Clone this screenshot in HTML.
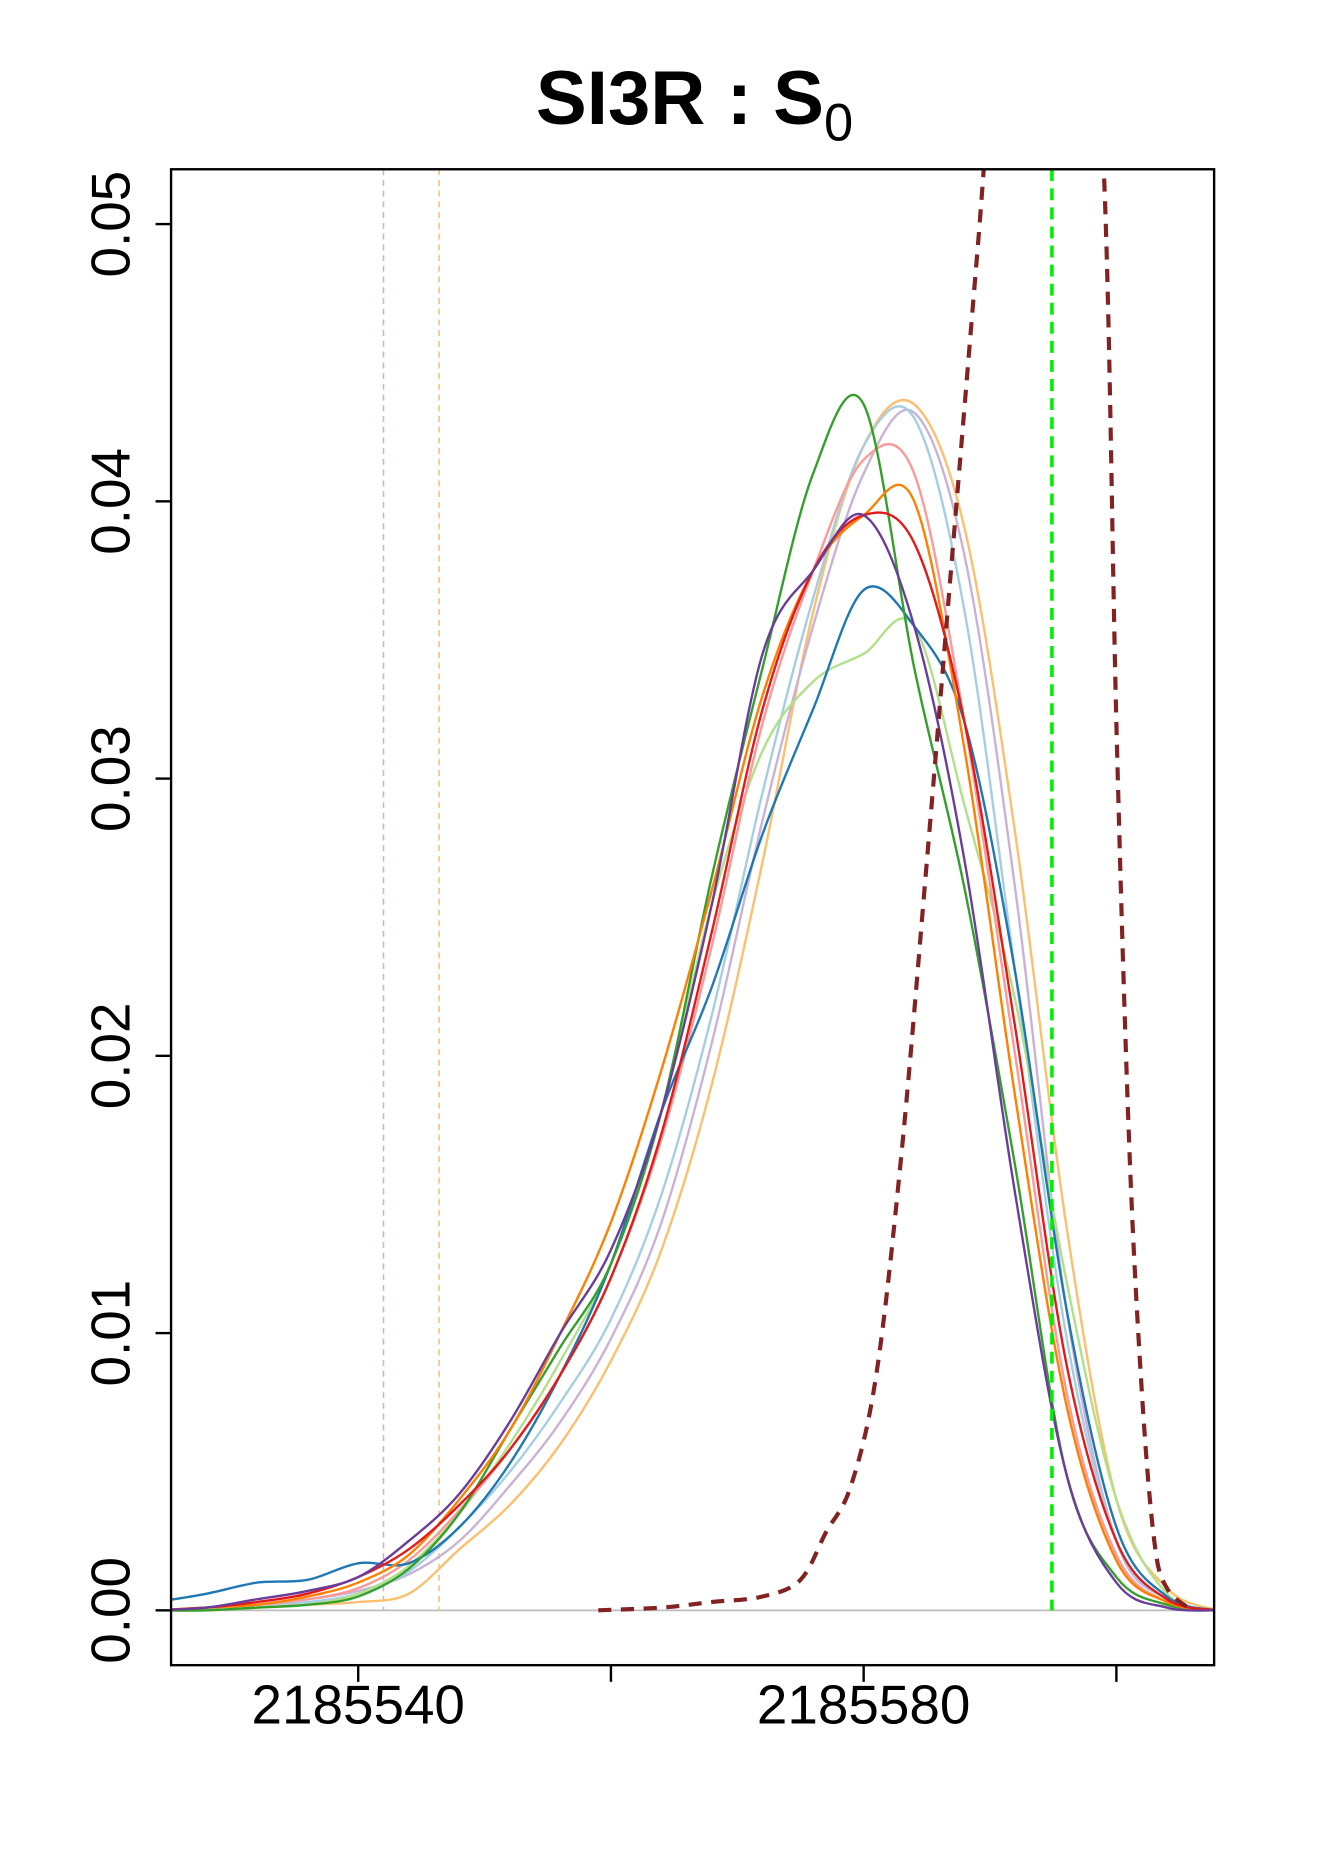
<!DOCTYPE html>
<html><head><meta charset="utf-8"><style>
html,body{margin:0;padding:0;background:#fff}
svg{display:block}
text{font-family:"Liberation Sans",sans-serif}
</style></head><body>
<svg id="chart" width="1322" height="1869" viewBox="1.5 0 1109 1568" preserveAspectRatio="none" xmlns="http://www.w3.org/2000/svg">
<defs><clipPath id="clip"><rect x="145" y="142" width="875" height="1255"/></clipPath></defs>
<rect x="0" y="0" width="1112" height="1570" fill="#fff"/>
<text x="451" y="104" font-size="64" font-weight="bold">SI3R : S<tspan font-weight="normal" font-size="44" dy="14">0</tspan></text>
<g id="plot" clip-path="url(#clip)"></g>
<g id="axes"></g>
<rect x="145" y="142" width="875" height="1255" fill="none" stroke="#000" stroke-width="2"/>
</svg>
<script>
const xGrid=[2185524,2185528,2185532,2185536,2185540,2185544,2185548,2185552,2185556,2185560,2185564,2185568,2185572,2185576,2185580,2185584,2185588,2185592,2185596,2185600,2185604,2185608];
const sBlue=[0.0003,0.0006,0.0010,0.0011,0.0017,0.0017,0.0030,0.0053,0.0085,0.0125,0.0180,0.0225,0.0280,0.0325,0.0368,0.0355,0.0320,0.0230,0.0110,0.0030,0.0005,0];
const sLightBlue=[0,0.0001,0.0002,0.0003,0.0006,0.0014,0.0030,0.0050,0.0075,0.0105,0.0150,0.0215,0.0295,0.0365,0.0420,0.0430,0.0360,0.0230,0.0100,0.0025,0.0004,0];
const sGreen=[0,0,0.0001,0.0002,0.0005,0.0015,0.0035,0.0065,0.0095,0.0125,0.0180,0.0265,0.0340,0.0410,0.0435,0.0340,0.0260,0.0160,0.0050,0.0012,0.0002,0];
const sLightGreen=[0,0,0.0001,0.0002,0.0006,0.0016,0.0035,0.0060,0.0090,0.0125,0.0180,0.0255,0.0310,0.0335,0.0345,0.0355,0.0290,0.0220,0.0120,0.0040,0.0006,0];
const sRed=[0,0.0001,0.0003,0.0006,0.0012,0.0022,0.0038,0.0058,0.0085,0.0120,0.0172,0.0245,0.0325,0.0375,0.0395,0.0385,0.0320,0.0210,0.0090,0.0025,0.0004,0];
const sPink=[0,0.0001,0.0002,0.0004,0.0008,0.0018,0.0036,0.0058,0.0085,0.0120,0.0170,0.0240,0.0320,0.0375,0.0415,0.0410,0.0320,0.0200,0.0080,0.0020,0.0003,0];
const sOrange=[0,0.0001,0.0002,0.0005,0.0010,0.0020,0.0040,0.0065,0.0100,0.0140,0.0195,0.0260,0.0330,0.0375,0.0395,0.0400,0.0310,0.0185,0.0075,0.0018,0.0003,0];
const sLightOrange=[0,0,0.0001,0.0002,0.0003,0.0006,0.0022,0.0038,0.0060,0.0090,0.0130,0.0190,0.0270,0.0360,0.0420,0.0435,0.0390,0.0280,0.0140,0.0040,0.0008,0];
const sPurple=[0,0.0001,0.0004,0.0007,0.0012,0.0025,0.0042,0.0068,0.0100,0.0130,0.0180,0.0255,0.0345,0.0375,0.0395,0.0355,0.0270,0.0150,0.0050,0.0010,0.0001,0];
const sLavender=[0,0.0001,0.0002,0.0004,0.0007,0.0013,0.0025,0.0045,0.0068,0.0098,0.0140,0.0205,0.0285,0.0355,0.0410,0.0432,0.0380,0.0260,0.0110,0.0025,0.0004,0];
const priorX=[2185559,2185564,2185568,2185572,2185575,2185577,2185579,2185581,2185583,2185585,2185587,2185589,2185591,2185594,2185597,2185599,2185600,2185601,2185602,2185603,2185604,2185606];
const priorY=[0,0.0001,0.0003,0.0005,0.0011,0.0028,0.0045,0.0085,0.0165,0.0270,0.0380,0.0490,0.0600,0.0680,0.0640,0.0520,0.0320,0.0170,0.0080,0.0025,0.0008,0];
const vLines=[2185542.0,2185546.4];
const trueValue=2185594.9;
const yTicks=[0,0.01,0.02,0.03,0.04,0.05];
const yTickLabels=["0.00","0.01","0.02","0.03","0.04","0.05"];
const xTicks=[2185540,2185560,2185580,2185600];
const xTickLabels=["2185540","","2185580",""];

const NS="http://www.w3.org/2000/svg";
function X(v){return 302+(v-2185540)*10.6;}
function Y(v){return 1351-v*23260;}
function mk(tag,attrs,parent){const e=document.createElementNS(NS,tag);for(const k in attrs)e.setAttribute(k,attrs[k]);parent.appendChild(e);return e;}
function smooth(xs,ys){
  const p=xs.map((x,i)=>[X(x),Y(ys[i])]);
  let d="M"+p[0][0].toFixed(1)+","+p[0][1].toFixed(1);
  for(let i=0;i<p.length-1;i++){
    const p0=p[i-1]||p[i],p1=p[i],p2=p[i+1],p3=p[i+2]||p2;
    const c1=[p1[0]+(p2[0]-p0[0])/6,p1[1]+(p2[1]-p0[1])/6];
    const c2=[p2[0]-(p3[0]-p1[0])/6,p2[1]-(p3[1]-p1[1])/6];
    d+="C"+c1[0].toFixed(1)+","+c1[1].toFixed(1)+" "+c2[0].toFixed(1)+","+c2[1].toFixed(1)+" "+p2[0].toFixed(1)+","+p2[1].toFixed(1);
  }
  return d;
}
const plot=document.getElementById('plot');
const axes=document.getElementById('axes');
let e=mk('line',{x1:145,x2:1020,y1:Y(0),y2:Y(0),stroke:'#bdbdbd','stroke-width':1.5},plot);


e=mk('line',{x1:X(vLines[0]),x2:X(vLines[0]),y1:142,y2:Y(0),stroke:'#cab2d6','stroke-width':1.3,'stroke-dasharray':'5,4'},plot);


e=mk('line',{x1:X(vLines[1]),x2:X(vLines[1]),y1:142,y2:Y(0),stroke:'#fdbf6f','stroke-width':1.3,'stroke-dasharray':'5,4'},plot);


const series=[
 ['lightorange',sLightOrange,'#fdbf6f'],['lavender',sLavender,'#cab2d6'],['lightblue',sLightBlue,'#a6cee3'],['lightgreen',sLightGreen,'#b2df8a'],
 ['pink',sPink,'#fb9a99'],['blue',sBlue,'#1f78b4'],['green',sGreen,'#33a02c'],['orange',sOrange,'#ff7f00'],['red',sRed,'#e31a1c'],['purple',sPurple,'#6a3d9a']];
series.forEach(s=>{
  const p=mk('path',{d:smooth(xGrid,s[1]),fill:'none',stroke:s[2],'stroke-width':2},plot);
  
  
});
e=mk('path',{d:smooth(priorX,priorY),fill:'none',stroke:'#822222','stroke-width':3.5,'stroke-dasharray':'11,8'},plot);


e=mk('line',{x1:X(trueValue),x2:X(trueValue),y1:142,y2:Y(0),stroke:'#00ee00','stroke-width':3,'stroke-dasharray':'10,6'},plot);


yTicks.forEach((v,i)=>{
  const t=mk('line',{x1:132,x2:145,y1:Y(v),y2:Y(v),stroke:'#000','stroke-width':2},axes);
  
  
  const l=mk('text',{x:0,y:0,'font-size':46,'text-anchor':'middle',transform:'translate(110,'+Y(v)+') rotate(-90)'},axes);
  l.textContent=yTickLabels[i];
  
  
});
xTicks.forEach((v,i)=>{
  const t=mk('line',{x1:X(v),x2:X(v),y1:1397,y2:1411,stroke:'#000','stroke-width':2},axes);
  
  
  if(xTickLabels[i]){
    const l=mk('text',{x:X(v),y:1446,'font-size':46,'text-anchor':'middle'},axes);
    l.textContent=xTickLabels[i];
    
    
  }
});
</script>
</body></html>
